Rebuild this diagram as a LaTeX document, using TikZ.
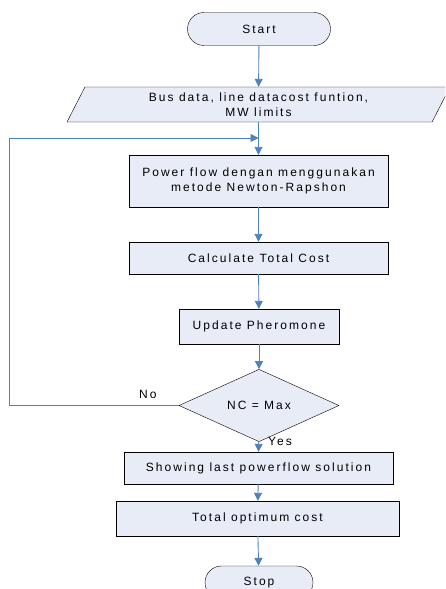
\documentclass[tikz,border=0pt]{standalone}
\usepackage{fontspec}
\setmainfont{Liberation Sans}[LetterSpace=17]
\usetikzlibrary{shapes.geometric,shapes.misc,arrows.meta}
\definecolor{flowblue}{RGB}{79,129,189}
\definecolor{boxfill}{RGB}{231,236,246}
\begin{document}
\begin{tikzpicture}[x=1pt,y=1pt,yscale=-1,xscale=1,
  every node/.style={font=\fontsize{12}{15}\selectfont},
  blk/.style={draw=black,fill=boxfill,rectangle,inner sep=0pt,align=center},
  term/.style={draw=black,fill=boxfill,rounded rectangle,inner sep=0pt},
  iobox/.style={draw=black,fill=boxfill,trapezium,trapezium left angle=53,trapezium right angle=127,trapezium stretches body,inner sep=0pt,align=center},
  decide/.style={draw=black,fill=boxfill,diamond,inner sep=0pt},
  flow/.style={draw=flowblue,line width=0.9pt,-{Triangle[width=8pt,length=8pt]}},
  lbl/.style={inner sep=0pt}]
\clip (0,0) rectangle (445,589);

%Shape: Terminal [id:start]
\node[term,minimum width=143,minimum height=33] (start) at (259,29) {Start};
%Shape: Data [id:busdata]
\node[iobox,minimum width=383,minimum height=35] (busdata) at (258.5,104.5) {Bus data, line datacost funtion,\\MW limits};
%Shape: Process [id:powerflow]
\node[blk,minimum width=259,minimum height=52] (powerflow) at (258.5,181) {Power flow dengan menggunakan\\metode Newton-Rapshon};
%Shape: Process [id:calccost]
\node[blk,minimum width=259,minimum height=32] (calccost) at (258.5,258) {Calculate Total Cost};
%Shape: Process [id:pheromone]
\node[blk,minimum width=160,minimum height=35] (pheromone) at (259,326.5) {Update Pheromone};
%Shape: Decision [id:ncmax]
\node[decide,minimum width=160,minimum height=53] (ncmax) at (259,405.5) {NC = Max};
%Shape: Process [id:lastpf]
\node[blk,minimum width=269,minimum height=32] (lastpf) at (258.5,468) {Showing last powerflow solution};
%Shape: Process [id:optcost]
\node[blk,minimum width=283,minimum height=35] (optcost) at (257.5,518.5) {Total optimum cost};
%Shape: Terminal [id:stop]
\node[term,minimum width=108,minimum height=33] (stop) at (259,582.5) {Stop};

%Straight Lines
\coordinate (join) at (258.5,138);
\coordinate (loopbot) at (9,405.5);
\coordinate (looptop) at (9,138);
\draw[flow] (start) -- (busdata);
\draw[flow] (busdata) -- (powerflow);
\draw[flow] (ncmax.west) -- (loopbot) -- (looptop) -- (join);
\draw[flow] (powerflow) -- (calccost);
\draw[flow] (calccost) -- (pheromone);
\draw[flow] (pheromone) -- (ncmax);
\draw[flow] (ncmax) -- (lastpf);
\draw[flow] (lastpf) -- (optcost);
\draw[flow] (optcost) -- (stop);

% Text Node
\node[lbl,anchor=west] (no) at (139,394.5) {No};
% Text Node
\node[lbl,anchor=west] (yes) at (268,441.5) {Yes};
\end{tikzpicture}
\end{document}
